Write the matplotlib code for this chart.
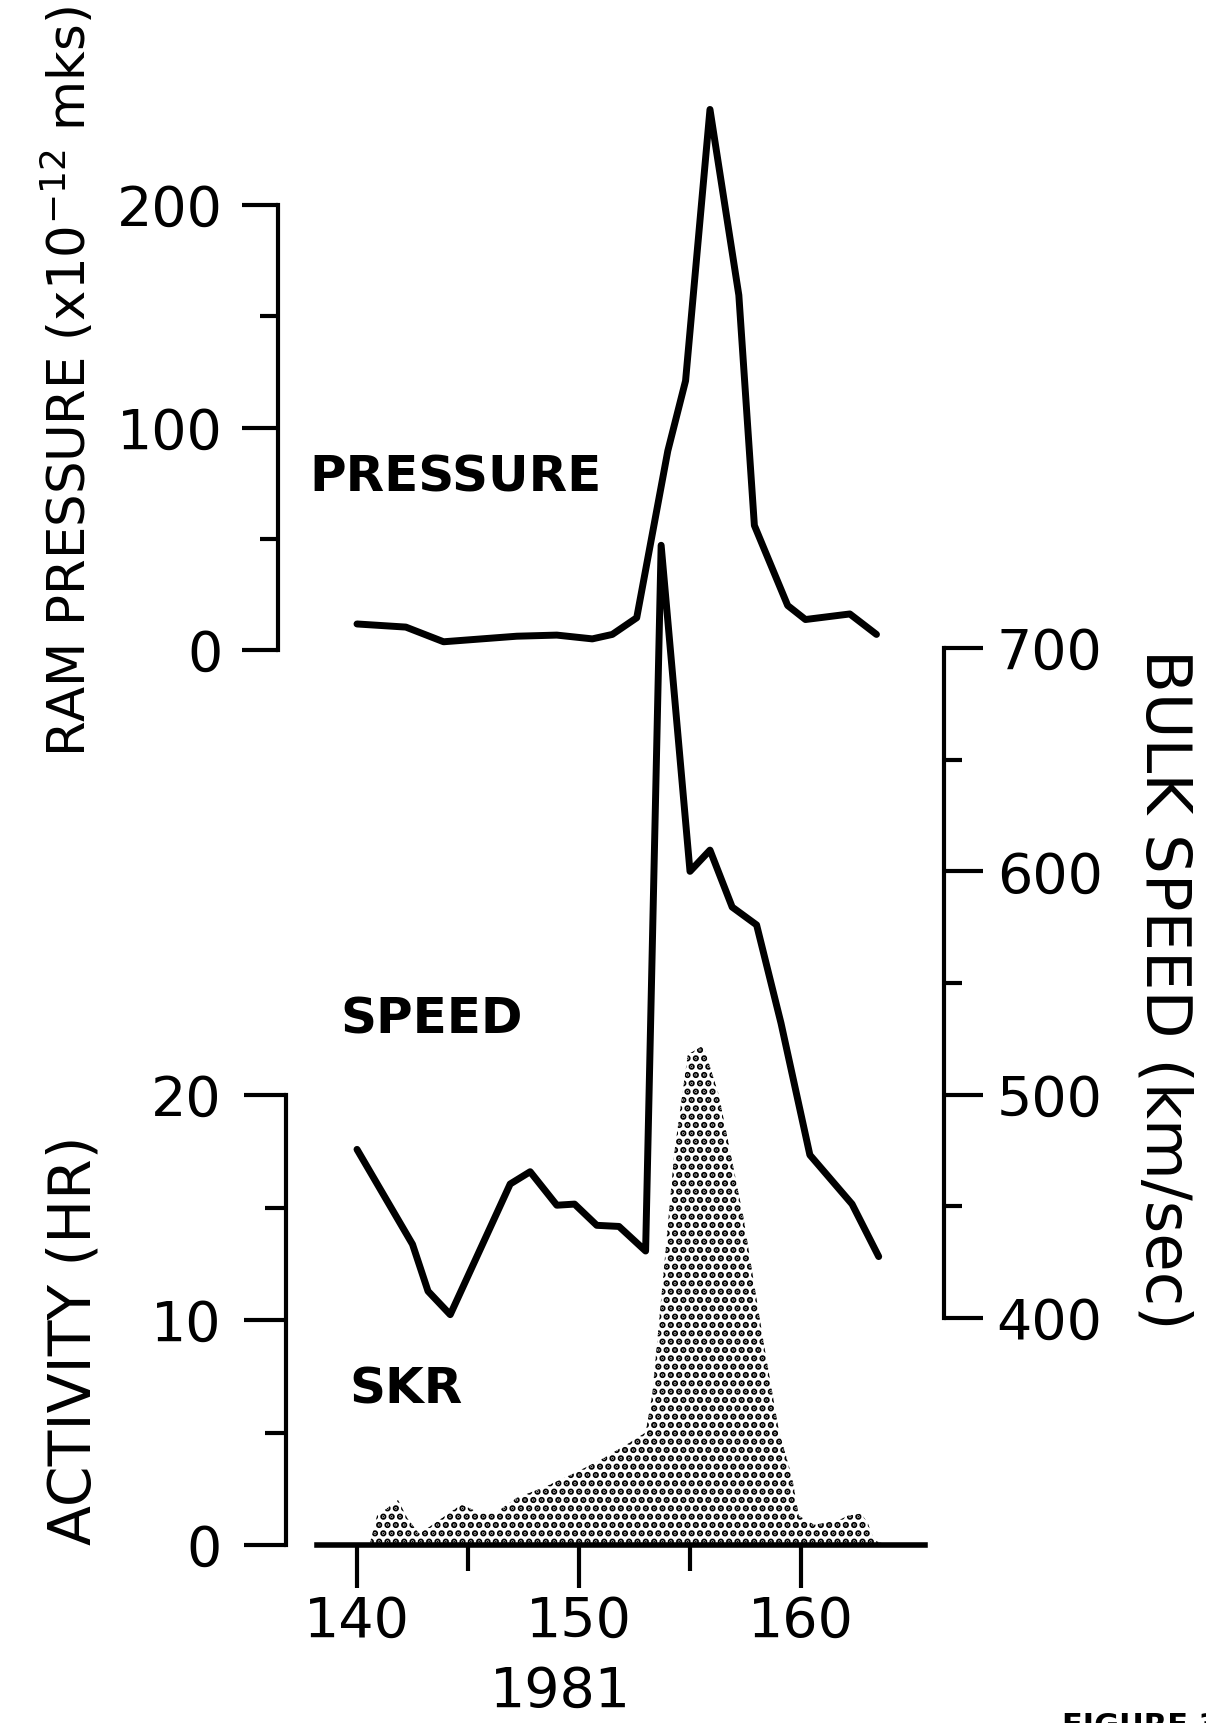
import matplotlib
matplotlib.use("Agg")
import matplotlib.pyplot as plt

# ---------------- data ----------------
pressure_day = [140.0, 142.2, 143.9, 147.2, 149.0, 150.6, 151.5, 152.6, 154.0,
                154.8, 155.9, 157.2, 157.9, 159.4, 160.2, 162.2, 163.4]
pressure_val = [11.7, 10.3, 3.7, 6.2, 6.7, 5.0, 7.0, 14.5, 89.5,
                121.0, 243.0, 159.5, 56.0, 20.0, 13.7, 16.2, 7.0]

speed_day = [140.0, 142.5, 143.2, 144.2, 146.9, 147.8, 149.0, 149.8, 150.8, 151.8,
             153.0, 153.7, 155.0, 155.9, 156.9, 158.0, 159.1, 160.4, 162.3, 163.5]
speed_val = [475.5, 433.0, 412.0, 401.5, 460.0, 465.5, 450.5, 451.0, 441.5, 441.0,
             430.0, 746.0, 600.0, 609.5, 584.0, 576.0, 532.0, 473.0, 451.0, 427.5]

skr_day = [140.56, 140.9, 141.85, 142.26, 142.8, 143.4, 144.7, 145.6, 146.2, 147.2,
           148.5, 149.8, 151.0, 152.2, 153.0, 153.3, 153.8, 154.3, 154.9, 155.6,
           156.3, 157.4, 158.3, 159.0, 159.6, 159.9, 160.6, 161.7, 162.1, 162.7,
           163.0, 163.3, 163.9]
skr_val = [0.0, 1.3, 2.0, 1.2, 0.5, 0.9, 1.8, 1.4, 1.4, 2.1,
           2.6, 3.2, 3.8, 4.5, 5.0, 6.7, 12.0, 17.5, 21.8, 22.2,
           20.0, 14.6, 9.1, 5.1, 3.0, 1.3, 0.9, 1.1, 1.3, 1.4,
           1.0, 0.2, 0.0]

x_major = [140, 150, 160]
x_minor = [145, 155]
p_major = [0, 100, 200]
p_minor = [50, 150]
s_major = [400, 500, 600, 700]
s_minor = [450, 550, 650]
a_major = [0, 10, 20]
a_minor = [5, 15]

# ---------------- layout (pixel calibration) ----------------
W, H, DPI = 1206, 1723, 100
X140, PX_DAY = 357.0, 22.2          # pixel of day 140, pixels per day
P0_TOP, P_PPU = 650.0, 2.2245       # pressure 0 (px from top), px per unit
S400_TOP, S_PPU = 1318.0, 2.2333    # speed 400 (px from top), px per unit
A0_TOP, A_PPU = 1545.0, 22.5        # activity 0 (px from top), px per unit

plt.rcParams["font.family"] = ["DejaVu Sans"]
plt.rcParams["mathtext.default"] = "regular"
plt.rcParams["hatch.linewidth"] = 3.2

fig = plt.figure(figsize=(W / DPI, H / DPI), dpi=DPI, facecolor="white")

xlim = (140 - X140 / PX_DAY, 140 + (W - X140) / PX_DAY)


def make_ax(zero_top, ppu, base):
    ax = fig.add_axes([0, 0, 1, 1])
    ax.patch.set_visible(False)
    yb = H - zero_top
    ax.set_xlim(*xlim)
    ax.set_ylim(base - yb / ppu, base + (H - yb) / ppu)
    for s in ax.spines.values():
        s.set_visible(False)
    ax.set_xticks([])
    ax.set_yticks([])
    return ax


ax_p = make_ax(P0_TOP, P_PPU, 0)
ax_s = make_ax(S400_TOP, S_PPU, 400)
ax_a = make_ax(A0_TOP, A_PPU, 0)

LW_SP = 3.0
TICK_FS = 40
LW_DATA = 5.0

# pressure axis
sp = ax_p.spines["left"]
sp.set_visible(True)
sp.set_position(("data", 136.44))
sp.set_bounds(0, 200)
sp.set_linewidth(LW_SP)
ax_p.set_yticks(p_major)
ax_p.set_yticks(p_minor, minor=True)
ax_p.set_yticklabels([str(v) for v in p_major])
ax_p.tick_params(axis="y", which="major", direction="out", length=26, width=LW_SP,
                 labelsize=TICK_FS, pad=14)
ax_p.tick_params(axis="y", which="minor", direction="out", length=13, width=LW_SP)

# speed axis (right)
sp = ax_s.spines["right"]
sp.set_visible(True)
sp.set_position(("data", 166.44))
sp.set_bounds(400, 700)
sp.set_linewidth(LW_SP)
ax_s.yaxis.tick_right()
ax_s.set_yticks(s_major)
ax_s.set_yticks(s_minor, minor=True)
ax_s.set_yticklabels([str(v) for v in s_major])
ax_s.tick_params(axis="y", which="major", direction="out", length=28, width=LW_SP,
                 labelsize=TICK_FS, pad=10, left=False, labelleft=False)
ax_s.tick_params(axis="y", which="minor", direction="out", length=13, width=LW_SP,
                 left=False)

# activity axis
sp = ax_a.spines["left"]
sp.set_visible(True)
sp.set_position(("data", 136.78))
sp.set_bounds(0, 20)
sp.set_linewidth(LW_SP)
ax_a.set_yticks(a_major)
ax_a.set_yticks(a_minor, minor=True)
ax_a.set_yticklabels([str(v) for v in a_major])
ax_a.tick_params(axis="y", which="major", direction="out", length=30, width=LW_SP,
                 labelsize=TICK_FS, pad=16)
ax_a.tick_params(axis="y", which="minor", direction="out", length=15, width=LW_SP)

# time axis
sp = ax_a.spines["bottom"]
sp.set_visible(True)
sp.set_position(("data", 0))
sp.set_bounds(138.2, 165.6)
sp.set_linewidth(4.0)
ax_a.set_xticks(x_major)
ax_a.set_xticks(x_minor, minor=True)
ax_a.set_xticklabels([str(v) for v in x_major])
ax_a.tick_params(axis="x", which="major", direction="out", length=31, width=LW_SP,
                 labelsize=TICK_FS, pad=5)
ax_a.tick_params(axis="x", which="minor", direction="out", length=19, width=LW_SP)

# ---------------- data marks ----------------
ax_a.fill_between(skr_day, skr_val, 0, facecolor="white", edgecolor="black",
                  hatch="..", linewidth=0, zorder=1)
ax_s.plot(speed_day, speed_val, color="black", lw=LW_DATA,
          solid_joinstyle="round", solid_capstyle="round", zorder=3)
ax_p.plot(pressure_day, pressure_val, color="black", lw=LW_DATA,
          solid_joinstyle="round", solid_capstyle="round", zorder=3)


# ---------------- texts ----------------
def ftext(x, y, s, **kw):
    fig.text(x / W, 1 - y / H, s, **kw)


ftext(456, 478, "PRESSURE", fontsize=36, fontweight="bold", ha="center", va="center")
ftext(432, 1019, "SPEED", fontsize=36, fontweight="bold", ha="center", va="center")
ftext(406, 1389, "SKR", fontsize=36, fontweight="bold", ha="center", va="center")
ftext(560, 1692, "1981", fontsize=40, ha="center", va="center")

ftext(68, 382, "RAM PRESSURE (x10$^{-12}$ mks)", fontsize=37, rotation=90,
      ha="center", va="center")
ftext(74, 1340, "ACTIVITY (HR)", fontsize=42, rotation=90, ha="center", va="center")
ftext(1164, 989, "BULK SPEED (km/sec)", fontsize=45, rotation=270,
      ha="center", va="center")
ftext(1062, 1712, "FIGURE 3", fontsize=22, fontweight="bold", ha="left", va="top")

fig.savefig("out.png", dpi=DPI, facecolor="white")
